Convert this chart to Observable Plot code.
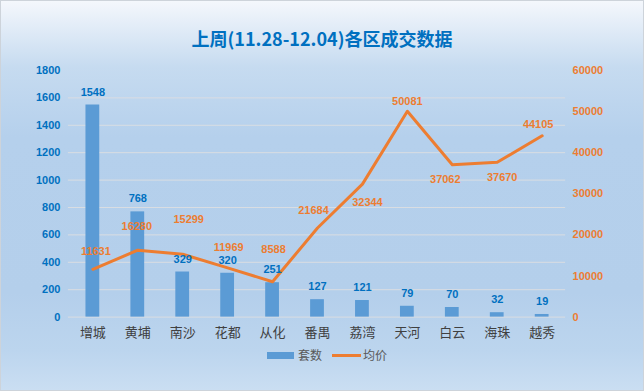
<!DOCTYPE html>
<html>
<head>
<meta charset="utf-8">
<script src="https://cdn.jsdelivr.net/npm/d3@7"></script>
<script src="https://cdn.jsdelivr.net/npm/@observablehq/plot@0.6"></script>
<style>
  html, body { margin: 0; padding: 0; }
  #wrap {
    position: relative; width: 642px; height: 389px;
    border: 1px solid #cdd3da;
    background: linear-gradient(to bottom, #f4f7fc 0%, #c6dbf0 17%, #b5d0ec 35%, #b4cfeb 75%, #bcd5ee 90%, #cadef2 100%);
    font-family: "Noto Sans CJK SC", "Noto Sans", sans-serif;
    overflow: hidden;
  }
  #title {
    position: absolute; left: 0; top: 24px; width: 642px; text-align: center;
    font-size: 18px; font-weight: bold; color: #0070c0; line-height: 26px;
  }
  #chart { position: absolute; left: -1px; top: 54px; }
  #legend { position: absolute; top: 345px; left: 0; width: 642px; height: 18px; font-size: 12px; color: #595959; }
  .sw { position: absolute; }
  .lt { position: absolute; top: 0; line-height: 18px; }
</style>
</head>
<body>
<div id="wrap">
  <div id="title">上周(11.28-12.04)各区成交数据</div>
  <div id="chart"></div>
  <div id="legend">
    <div class="sw" style="left:266px; top:6px; width:27px; height:7px; background:#5b9bd5;"></div>
    <div class="lt" style="left:297px;">套数</div>
    <div class="sw" style="left:331px; top:8px; width:29px; height:3px; background:#ed7d31;"></div>
    <div class="lt" style="left:362px;">均价</div>
  </div>
</div>
<script>
const districts = ["增城","黄埔","南沙","花都","从化","番禺","荔湾","天河","白云","海珠","越秀"];
const counts = [1548, 768, 329, 320, 251, 127, 121, 79, 70, 32, 19];
const prices = [11631, 16280, 15299, 11969, 8588, 21684, 32344, 50081, 37062, 37670, 44105];
const leftTicks = [0, 200, 400, 600, 800, 1000, 1200, 1400, 1600, 1800];
const rightTicks = [0, 10000, 20000, 30000, 40000, 50000, 60000];

// label nudges (styling, not data)
const priceLabelDy = [-18, -24, -35, -20, -32, -18, 18, -10, 15, 15, -11];
const priceLabelDx = [3, -1, 6, 1, 1, -4, 5, 0, -7, 5, -4];

const k = 1800 / 60000;
const rows = districts.map((d, i) => ({
  district: d, count: counts[i], price: prices[i], py: prices[i] * k,
  dy: priceLabelDy[i], dx: priceLabelDx[i]
}));

const chart = Plot.plot({
  width: 644,
  height: 291,
  marginTop: 15,
  marginBottom: 29,
  marginLeft: 68,
  marginRight: 78,
  style: { background: "transparent", fontFamily: "'Noto Sans CJK SC', sans-serif", overflow: "visible" },
  x: { domain: districts, padding: 0, axis: null },
  y: { domain: [0, 1800], axis: null },
  marks: [
    Plot.gridY(leftTicks.filter(t => t < 1800), { stroke: "#dadde2", strokeOpacity: 1, strokeWidth: 1 }),
    Plot.barY(rows, { x: "district", y: "count", fill: "#5b9bd5", insetLeft: 15.6, insetRight: 15.6 }),
    Plot.line(rows, { x: "district", y: "py", stroke: "#ed7d31", strokeWidth: 3, strokeLinejoin: "round", strokeLinecap: "round" }),
    Plot.text(rows, { x: "district", y: "count", text: d => String(d.count), dy: -13, fill: "#0070c0", fontWeight: "bold", fontSize: 11, fontFamily: "'Liberation Sans', sans-serif" }),
    ...rows.map(r => Plot.text([r], { x: "district", y: "py", text: d => String(d.price), dy: r.dy, dx: r.dx, fill: "#ed7d31", fontWeight: "bold", fontSize: 11, fontFamily: "'Liberation Sans', sans-serif" })),
    Plot.axisY({ anchor: "left", ticks: leftTicks, tickFormat: t => String(t), tickSize: 0, tickPadding: 8, label: null, fill: "#0070c0", fontWeight: "bold", fontSize: 11, fontFamily: "'Liberation Sans', sans-serif" }),
    Plot.axisY({ anchor: "right", ticks: rightTicks.map(t => t * k), tickFormat: t => String(Math.round(t / k)), tickSize: 0, tickPadding: 7, label: null, fill: "#ed7d31", fontWeight: "bold", fontSize: 11, fontFamily: "'Liberation Sans', sans-serif" }),
    Plot.axisX({ tickSize: 0, tickPadding: 11, label: null, fill: "#404040", fontSize: 13 })
  ]
});
document.getElementById("chart").appendChild(chart);
</script>
</body>
</html>
